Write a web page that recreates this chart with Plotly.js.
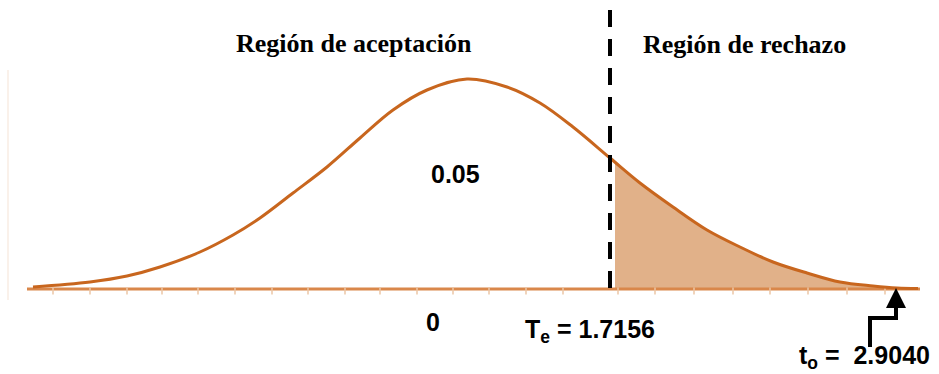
<!DOCTYPE html>
<html>
<head>
<meta charset="utf-8">
<script src="https://cdn.plot.ly/plotly-3.0.1.min.js"></script>
<style>
  html, body { margin: 0; padding: 0; background: #ffffff; }
  #chart { width: 939px; height: 374px; }
</style>
</head>
<body>
<div id="chart"></div>
<script>
// === Data (x = horizontal position, y = height above the baseline) ===
const curveX = [33, 90, 127, 160, 200, 233, 260, 293, 327, 360, 393, 427, 467, 507, 540, 573, 610, 640, 673, 707, 740, 773, 807, 840, 873, 897, 918];
const curveY = [2, 7, 13, 22, 37, 54, 71, 96, 122, 151, 179, 199, 210, 202, 186, 162, 131, 106, 82, 59, 42, 27, 16, 7, 3, 1, 0.5];

const rejectX = [615, 640, 673, 707, 740, 773, 807, 840, 873, 897];
const rejectY = [126, 106, 82, 59, 42, 27, 16, 7, 3, 1];

const baseX = [27, 920];
const baseY = [0, 0];

const tickX = [53, 90, 127, 162, 198, 235, 272, 308, 345, 380, 417, 453, 489, 526, 563, 618, 655, 694, 733, 770, 808, 847, 885];

const criticalX = 610;   // T_e = 1.7156
const observedX = 896;   // t_o = 2.9040

const LINE = '#C8661E';
const FILL = '#E1B189';
const BASE = '#D9874A';
const TICK = '#EBC6A6';

const serif = { family: '"Liberation Serif", "Times New Roman", serif', size: 26, color: '#000', weight: 'bold' };
const sans = { family: '"Liberation Sans", Arial, sans-serif', size: 25, color: '#000', weight: 'bold' };

// === Traces ===
const shade = {
  x: rejectX, y: rejectY, type: 'scatter', mode: 'lines',
  fill: 'tozeroy', fillcolor: FILL,
  line: { width: 0, color: FILL, shape: 'spline', smoothing: 1 },
  hoverinfo: 'skip'
};

const baseline = {
  x: baseX, y: baseY, type: 'scatter', mode: 'lines',
  line: { color: BASE, width: 3 }, hoverinfo: 'skip'
};

const ticks = {
  x: tickX, y: tickX.map(() => -2), type: 'scatter', mode: 'markers',
  marker: { symbol: 'line-ns', size: 5, line: { color: TICK, width: 1.5 } },
  hoverinfo: 'skip'
};

const curve = {
  x: curveX, y: curveY, type: 'scatter', mode: 'lines',
  line: { color: LINE, width: 3, shape: 'spline', smoothing: 1 },
  hoverinfo: 'skip'
};

// === Layout ===
const layout = {
  width: 939, height: 374,
  margin: { l: 0, r: 0, t: 0, b: 0 },
  paper_bgcolor: '#ffffff', plot_bgcolor: '#ffffff',
  showlegend: false,
  xaxis: { range: [0, 939], visible: false, fixedrange: true },
  yaxis: { range: [-85, 289], visible: false, fixedrange: true },
  shapes: [
    { type: 'line', x0: 8, x1: 8, y0: 219, y1: -11, line: { color: '#F8EDE3', width: 1.5 } },
    { type: 'line', x0: criticalX, x1: criticalX, y0: 279, y1: -8,
      line: { color: '#000', width: 4, dash: '17px,12px' } },
    { type: 'path', path: `M 870,-58 V -29 H ${observedX} V -12`,
      line: { color: '#000', width: 4 } }
  ],
  annotations: [
    { x: 354, y: 246, text: 'Región de aceptación', showarrow: false, font: serif },
    { x: 744, y: 245, text: 'Región de rechazo', showarrow: false, font: serif },
    { x: 455, y: 115, text: '0.05', showarrow: false, font: sans },
    { x: 433, y: -33, text: '0', showarrow: false, font: sans },
    { x: 590, y: -42, text: 'T<sub>e</sub> = 1.7156', showarrow: false, font: sans },
    { x: 864, y: -68, text: 't<sub>o</sub> =&nbsp; 2.9040', showarrow: false, font: sans },
    { x: observedX, y: 1, ax: observedX, ay: -22, axref: 'x', ayref: 'y', text: '',
      showarrow: true, arrowhead: 2, arrowsize: 1, arrowwidth: 4, arrowcolor: '#000' }
  ]
};

Plotly.newPlot('chart', [shade, baseline, ticks, curve], layout, { staticPlot: true, displayModeBar: false });
</script>
</body>
</html>
